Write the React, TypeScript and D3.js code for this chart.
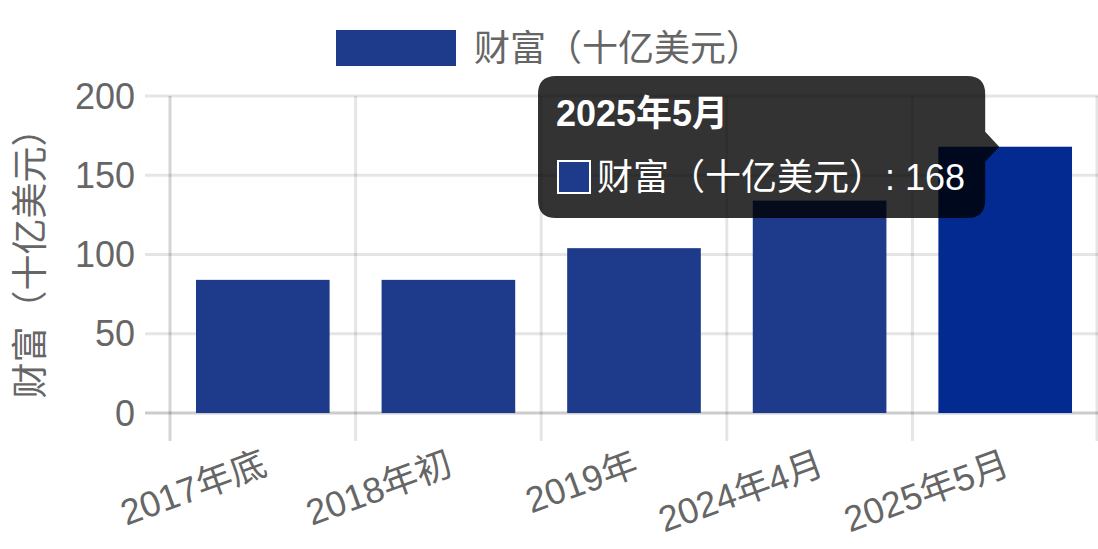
import React from "react";
import * as d3 from "d3";

// data
const categories = ["2017年底", "2018年初", "2019年", "2024年4月", "2025年5月"];
const wealth = [84, 84, 104, 134, 168];
const yTicks = [0, 50, 100, 150, 200];
const seriesName = "财富（十亿美元）";
const activeIndex = 4;

const W = 1098;
const H = 549;
const FONT = "'Liberation Sans', Arial, 'Noto Sans CJK SC', sans-serif";
const BAR = "#1e3a8a";
const BAR_HOVER = "#022a90";

const App: React.FC = () => {
  const plot = { left: 170, right: 1098, top: 96, bottom: 413 };

  const x = d3
    .scaleBand<string>()
    .domain(categories)
    .range([plot.left, plot.right])
    .padding(0);
  const y = d3.scaleLinear().domain([0, 200]).range([plot.bottom, plot.top]);

  const bw = x.bandwidth();
  const barW = bw * 0.72;

  // tooltip geometry
  const tipX = x(categories[activeIndex])! + bw / 2 - 6;
  const tipY = y(wealth[activeIndex]);
  const bx0 = 538, bx1 = tipX - 14, by0 = 76, by1 = 218, r = 18;
  const tipPath = [
    `M${bx0 + r},${by0}`,
    `H${bx1 - r}`,
    `Q${bx1},${by0} ${bx1},${by0 + r}`,
    `V${tipY - 15}`,
    `L${tipX},${tipY}`,
    `L${bx1},${tipY + 15}`,
    `V${by1 - r}`,
    `Q${bx1},${by1} ${bx1 - r},${by1}`,
    `H${bx0 + r}`,
    `Q${bx0},${by1} ${bx0},${by1 - r}`,
    `V${by0 + r}`,
    `Q${bx0},${by0} ${bx0 + r},${by0}`,
    "Z",
  ].join(" ");

  return (
    <svg
      width={W}
      height={H}
      style={{ position: "absolute", left: 0, top: 0 }}
      fontFamily={FONT}
    >
      <rect width={W} height={H} fill="#fff" />

      {/* legend */}
      <rect x={336} y={30} width={120} height={36} fill={BAR} />
      <text x={474} y={48} fontSize={36} fill="#666" dominantBaseline="central">
        {seriesName}
      </text>

      {/* horizontal grid */}
      {yTicks.map((t) => (
        <line
          key={"h" + t}
          x1={145}
          x2={plot.right}
          y1={y(t)}
          y2={y(t)}
          stroke={t === 0 ? "rgba(0,0,0,0.2)" : "rgba(0,0,0,0.1)"}
          strokeWidth={3}
        />
      ))}
      {/* vertical grid */}
      {categories.map((c, i) => (
        <line
          key={"v" + c}
          x1={x(c)!}
          x2={x(c)!}
          y1={plot.top}
          y2={plot.bottom + 28}
          stroke={i === 0 ? "rgba(0,0,0,0.17)" : "rgba(0,0,0,0.1)"}
          strokeWidth={3}
        />
      ))}
      <line
        x1={plot.right - 1}
        x2={plot.right - 1}
        y1={plot.top}
        y2={plot.bottom + 28}
        stroke="rgba(0,0,0,0.1)"
        strokeWidth={3}
      />

      {/* y ticks */}
      {yTicks.map((t) => (
        <text
          key={"yt" + t}
          x={135}
          y={y(t)}
          textAnchor="end"
          dominantBaseline="central"
          fontSize={36}
          fill="#666"
        >
          {t}
        </text>
      ))}

      {/* y title */}
      <text
        transform={`translate(30,${(plot.top + plot.bottom) / 2}) rotate(-90)`}
        textAnchor="middle"
        dominantBaseline="central"
        fontSize={36}
        fill="#666"
      >
        {seriesName}
      </text>

      {/* bars */}
      {categories.map((c, i) => (
        <rect
          key={"b" + c}
          x={x(c)! + (bw - barW) / 2}
          y={y(wealth[i])}
          width={barW}
          height={y(0) - y(wealth[i])}
          fill={i === activeIndex ? BAR_HOVER : BAR}
        />
      ))}

      {/* x labels */}
      {categories.map((c) => (
        <text
          key={"xl" + c}
          transform={`translate(${x(c)! + bw / 2 + 2},462) rotate(-20)`}
          textAnchor="end"
          dominantBaseline="central"
          fontSize={36}
          fill="#666"
        >
          {c}
        </text>
      ))}

      {/* tooltip */}
      <path d={tipPath} fill="rgba(0,0,0,0.8)" />
      <text
        x={556}
        y={113}
        fontSize={36}
        fontWeight="bold"
        fill="#fff"
        dominantBaseline="central"
      >
        {categories[activeIndex]}
      </text>
      <rect x={557} y={160} width={34} height={34} fill="#fff" />
      <rect x={559} y={162} width={30} height={30} fill={BAR} />
      <text x={597} y={177} fontSize={36} fill="#fff" dominantBaseline="central">
        {`${seriesName}: ${wealth[activeIndex]}`}
      </text>
    </svg>
  );
};

export default App;
